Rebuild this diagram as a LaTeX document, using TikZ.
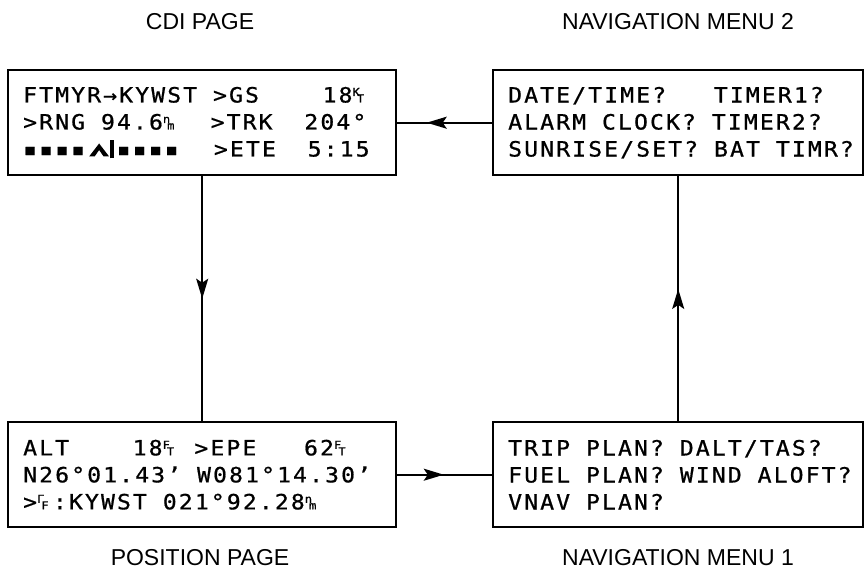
\documentclass[tikz,border=0pt]{standalone}
\usepackage{fontspec}
\setmainfont{Liberation Sans}
\newfontfamily\lcdfont[LetterSpace=10,FakeStretch=1.1,FakeBold=0.8]{DejaVu Sans Mono}
\usetikzlibrary{arrows.meta,decorations.markings}

% 字符间距与空格
\newlength\lcdpitch
\setlength\lcdpitch{15.9pt}
\newcommand{\blank}[1][1]{\hspace*{#1\lcdpitch}}
% 小号上下叠放单位
\newcommand{\lcdunit}[2]{\makebox[\lcdpitch][l]{\fontsize{11}{11}\selectfont\raisebox{6.5pt}{#1}\kern-3pt#2}}
% CDI 指针
\newcommand{\cdichevron}{\tikz[x=1pt,y=1pt,baseline=0pt]\fill (0,0)--(10,13)--(20,0)--(14.5,0)--(10,6.5)--(5.5,0)--cycle;}

\begin{document}
\begin{tikzpicture}[
    x=1pt, y=-1pt,
    lcd_box/.style={draw, line width=2.4pt, anchor=north west, minimum height=105,
        inner xsep=15pt, inner ysep=0pt, align=left,
        font=\lcdfont\fontsize{21}{27}\selectfont},
    page_label/.style={font=\fontsize{23}{23}\selectfont},
    link_edge/.style={line width=1.8pt},
    mid_arrow/.style={postaction={decorate}, decoration={markings,
        mark=at position #1 with {\arrow{Stealth[length=20pt,width=12pt,inset=4pt]}}}}
]
\useasboundingbox (0,0) rectangle (866,576);

% 绘制显示屏页面
\node[lcd_box, minimum width=388, text width=358pt] (cdi) at (7,69)
    {FTMYR→KYWST\blank >GS\blank[4]18\lcdunit{K}{T}\\
     >RNG\blank 94.6\lcdunit{n}{m}\blank[2]>TRK\blank[2]204°\\
     \makebox[12\lcdpitch][l]{▪▪▪▪\hspace*{4pt}\cdichevron\hspace*{1pt}\rule[-2pt]{3.5pt}{18pt}\hspace*{3pt}▪▪▪▪}>ETE\blank[2]5:15};
\node[lcd_box, minimum width=370, text width=340pt] (nav2) at (492,69)
    {DATE/TIME?\blank[3]TIMER1?\\
     ALARM\blank CLOCK?\blank TIMER2?\\
     SUNRISE/SET?\blank BAT\blank TIMR?};
\node[lcd_box, minimum width=388, text width=358pt] (pos) at (7,421)
    {ALT\blank[4]18\lcdunit{F}{T}\blank >EPE\blank[3]62\lcdunit{F}{T}\\
     N26°01.43’\blank W081°14.30’\\
     >\lcdunit{Γ}{F}:KYWST\blank 021°92.28\lcdunit{n}{m}};
\node[lcd_box, minimum width=370, text width=340pt] (nav1) at (492,421)
    {TRIP\blank PLAN?\blank DALT/TAS?\\
     FUEL\blank PLAN?\blank WIND\blank ALOFT?\\
     VNAV\blank PLAN?};

% 绘制页面名称
\node[page_label] (cdi_label) at (200,22) {CDI PAGE};
\node[page_label] (nav2_label) at (678,22) {NAVIGATION MENU 2};
\node[page_label] (pos_label) at (200,558) {POSITION PAGE};
\node[page_label] (nav1_label) at (678,558) {NAVIGATION MENU 1};

% 绘制页面之间的切换
\draw[link_edge, mid_arrow=0.5] (cdi.south) -- (pos.north);
\draw[link_edge, mid_arrow=0.49] (pos.east) -- (nav1.west);
\draw[link_edge, mid_arrow=0.54] (nav1.north) -- (nav2.south);
\draw[link_edge, mid_arrow=0.69] (nav2.west) -- (cdi.east);

\end{tikzpicture}
\end{document}
